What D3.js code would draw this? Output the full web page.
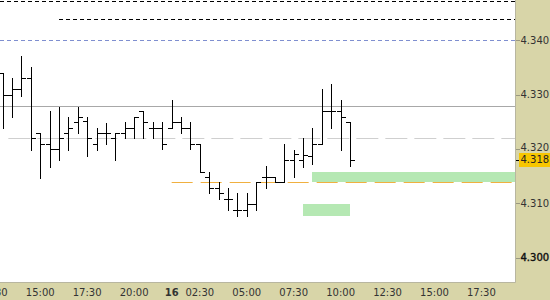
<!DOCTYPE html>
<html><head><meta charset="utf-8">
<script src="https://cdn.jsdelivr.net/npm/d3@7"></script>
<style>
html,body{margin:0;padding:0;background:#fff;}
svg{display:block;font-family:"DejaVu Sans",Verdana,sans-serif;}
</style></head>
<body><svg id="c" width="550" height="300"></svg>
<script>
// ---- data ----
const openP  = [4.3340,4.3299,4.3310,4.3330,4.3230,4.3209,4.3200,4.3230,4.3250,4.3252,4.3209,4.3230,4.3220,4.3230,4.3239,4.3270,4.3239,4.3239,4.3239,4.3250,4.3239,4.3209,4.3148,4.3128,4.3108,4.3088,4.3088,4.3099,4.3148,4.3148,4.3139,4.3180,4.3180,4.3187,4.3209,4.3270,4.3270,4.3250];
const highP  = [4.3340,4.3331,4.3371,4.3351,4.3230,4.3270,4.3278,4.3259,4.3278,4.3258,4.3239,4.3248,4.3230,4.3250,4.3259,4.3270,4.3250,4.3250,4.3290,4.3259,4.3250,4.3209,4.3158,4.3139,4.3128,4.3119,4.3119,4.3139,4.3169,4.3148,4.3209,4.3199,4.3220,4.3239,4.3310,4.3320,4.3290,4.3250];
const lowP   = [4.3239,4.3258,4.3298,4.3199,4.3147,4.3167,4.3180,4.3199,4.3230,4.3187,4.3198,4.3209,4.3180,4.3220,4.3220,4.3220,4.3220,4.3200,4.3239,4.3230,4.3200,4.3158,4.3119,4.3108,4.3088,4.3077,4.3077,4.3088,4.3128,4.3139,4.3139,4.3148,4.3167,4.3172,4.3209,4.3239,4.3198,4.3169];
const closeP = [4.3299,4.3310,4.3330,4.3220,4.3209,4.3200,4.3220,4.3239,4.3259,4.3220,4.3230,4.3230,4.3230,4.3239,4.3259,4.3250,4.3239,4.3209,4.3250,4.3239,4.3209,4.3158,4.3128,4.3119,4.3108,4.3088,4.3099,4.3139,4.3148,4.3139,4.3180,4.3190,4.3189,4.3209,4.3270,4.3270,4.3259,4.3180];

const xTickIdx    = [-1,4,9,14,18,21,26,31,36,41,46,51];
const xTickLabels = ["12:30","15:00","17:30","20:00","16","02:30","05:00","07:30","10:00","12:30","15:00","17:30"];
const yTickVals   = [4.300,4.310,4.320,4.330,4.340];

const lastPrice = 4.318;
// horizontal levels: price, start index
const levelBlack1 = [4.3472, -2];
const levelBlack2 = [4.3440, 6];
const levelBlue   = [4.3400, -2];
const levelGray   = [4.3279, -2];
const levelLight  = [4.3221, 0.6];
const levelOrange = [4.3139, 18];
// zones: [top, bottom, startIdx, endIdx]
const zone1 = [4.3157, 4.3139, 33, 60];
const zone2 = [4.3099, 4.3077, 32, 37];

// ---- layout ----
const W = 550, H = 300, plotR = 515, plotB = 282;
const svg = d3.select("#c");
const x = d3.scaleLinear().domain([0, 37]).range([2.7, 350]);
const y = d3.scaleLinear().domain([4.300, 4.340]).range([257.7, 40.3]);

// axis panels
svg.append("rect").attr("x", plotR).attr("y", 0).attr("width", W - plotR).attr("height", H).attr("fill", "#d8d5a8");
svg.append("rect").attr("x", 0).attr("y", plotB).attr("width", W).attr("height", H - plotB).attr("fill", "#d8d5a8");
svg.append("rect").attr("x", 0).attr("y", 0).attr("width", plotR).attr("height", plotB).attr("fill", "#fff");

const plot = svg.append("g");
const crisp = v => Math.round(v) + 0.5;
const xEnd = plotR;

function hline(level, color, dash, width) {
  plot.append("line")
    .attr("x1", Math.max(0, x(level[1]))).attr("x2", xEnd)
    .attr("y1", crisp(y(level[0]))).attr("y2", crisp(y(level[0])))
    .attr("stroke", color).attr("stroke-width", width || 1)
    .attr("stroke-dasharray", dash);
}

// zones
[zone1, zone2].forEach(z => {
  plot.append("rect")
    .attr("x", Math.round(x(z[2]))).attr("y", Math.round(y(z[0])))
    .attr("width", Math.min(xEnd, x(z[3])) - Math.round(x(z[2])))
    .attr("height", Math.round(y(z[1])) - Math.round(y(z[0])))
    .attr("fill", "#b5e8b3");
});

hline(levelBlack1, "#000", "4,3");
hline(levelBlack2, "#000", "4,3");
hline(levelBlue, "#7f8fd0", "4,3");
hline(levelGray, "#a8a8a8", null);
hline(levelLight, "#cfcfcf", "22,7");
hline(levelOrange, "#f0b040", "21,8");

// OHLC bars
const idx = d3.range(openP.length);
const bars = plot.selectAll("g.bar").data(idx).join("g").attr("class", "bar")
  .attr("stroke", "#000").attr("stroke-width", 1).attr("shape-rendering", "crispEdges");
bars.append("line")
  .attr("x1", i => crisp(x(i))).attr("x2", i => crisp(x(i)))
  .attr("y1", i => Math.round(y(highP[i]))).attr("y2", i => Math.round(y(lowP[i])) + 1);
bars.append("line")
  .attr("x1", i => crisp(x(i)) - 4.5).attr("x2", i => crisp(x(i)))
  .attr("y1", i => crisp(y(openP[i]))).attr("y2", i => crisp(y(openP[i])));
bars.append("line")
  .attr("x1", i => crisp(x(i))).attr("x2", i => crisp(x(i)) + 4.5)
  .attr("y1", i => crisp(y(closeP[i]))).attr("y2", i => crisp(y(closeP[i])));

// plot border
svg.append("line").attr("x1", plotR + 0.5).attr("x2", plotR + 0.5).attr("y1", 0).attr("y2", plotB + 0.5).attr("stroke", "#b8b6a0");
svg.append("line").attr("x1", 0).attr("x2", plotR + 0.5).attr("y1", plotB + 0.5).attr("y2", plotB + 0.5).attr("stroke", "#b8b6a0");

// right axis
const yAx = svg.append("g");
yTickVals.forEach(v => {
  const yy = crisp(y(v));
  const strong = v === 4.300;
  yAx.append("line").attr("x1", plotR + 1).attr("x2", plotR + 5).attr("y1", yy).attr("y2", yy).attr("stroke", "#9a9880");
  yAx.append("text").attr("x", 520.5).attr("y", y(v) + (v === 4.320 ? -2 : 0))
    .attr("dy", "0.35em").attr("font-size", 10).attr("fill", strong ? "#111" : "#333")
    .attr("stroke", strong ? "#111" : "none").attr("stroke-width", strong ? 0.4 : 0)
    .text(d3.format(".3f")(v));
});
// last price marker
const ly = y(lastPrice);
yAx.append("line").attr("x1", plotR + 1).attr("x2", plotR + 5).attr("y1", crisp(ly)).attr("y2", crisp(ly)).attr("stroke", "#000");
yAx.append("rect").attr("x", 519).attr("y", Math.round(ly) - 7).attr("width", 31).attr("height", 14).attr("fill", "#f7c600");
yAx.append("text").attr("x", 520.5).attr("y", ly).attr("dy", "0.35em").attr("font-size", 10).attr("fill", "#222")
  .text(d3.format(".3f")(lastPrice));

// bottom axis
const xAx = svg.append("g");
xTickIdx.forEach((t, k) => {
  xAx.append("text").attr("x", x(t)).attr("y", 295.5).attr("text-anchor", "middle")
    .attr("font-size", 10).attr("fill", "#333")
    .attr("font-weight", xTickLabels[k] === "16" ? "bold" : "normal")
    .text(xTickLabels[k]);
});
</script></body></html>
